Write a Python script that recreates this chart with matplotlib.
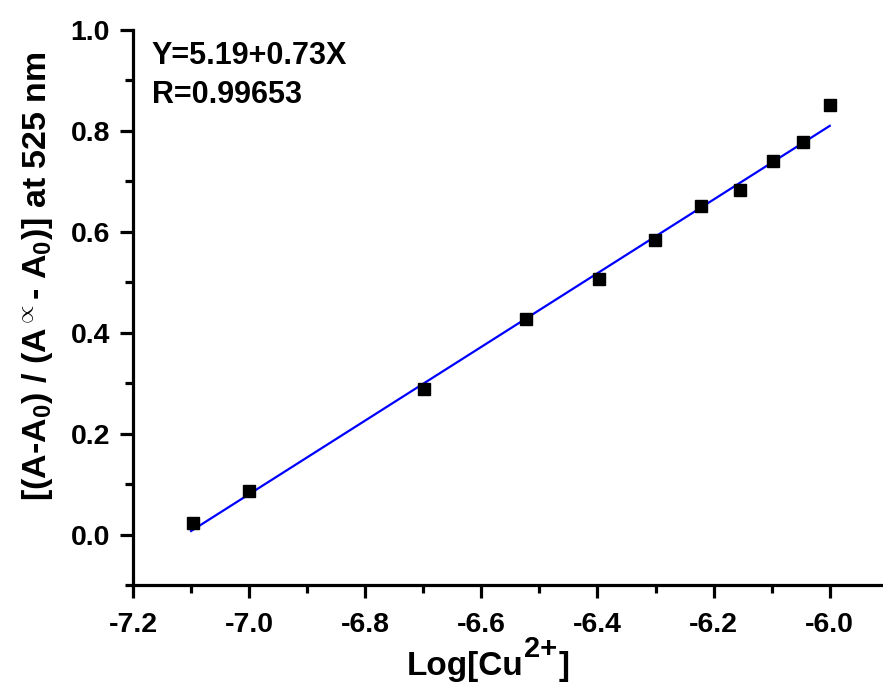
import numpy as np
import matplotlib
matplotlib.use("Agg")
import matplotlib.pyplot as plt
from matplotlib.ticker import MultipleLocator

# ----- data -----
log_cu = [-7.097, -7.0, -6.699, -6.523, -6.398, -6.301, -6.222, -6.155, -6.097, -6.046, -6.0]
response = [0.022, 0.087, 0.288, 0.427, 0.507, 0.583, 0.651, 0.682, 0.740, 0.778, 0.851]

# linear fit reported on the plot
intercept = 5.19
slope = 0.73
r_value = 0.99653
fit_x = [-7.1, -6.0]

x_ticks = [-7.2, -7.0, -6.8, -6.6, -6.4, -6.2, -6.0]
y_ticks = [0.0, 0.2, 0.4, 0.6, 0.8, 1.0]

# ----- style -----
plt.rcParams['font.family'] = ['Liberation Sans', 'DejaVu Sans']
plt.rcParams['font.weight'] = 'bold'
plt.rcParams['mathtext.fontset'] = 'custom'
plt.rcParams['mathtext.rm'] = 'Liberation Sans:bold'
plt.rcParams['mathtext.bf'] = 'Liberation Sans:bold'
plt.rcParams['mathtext.it'] = 'Liberation Sans:bold'

W, H = 883, 686
fig = plt.figure(figsize=(W / 100, H / 100), dpi=100)
ax = fig.add_axes([133 / W, 1 - 585 / H, 749 / W, 555 / H])

ax.plot(log_cu, response, linestyle='none', marker='s', markersize=9,
        color='black', zorder=3)

fx = np.array(fit_x)
ax.plot(fx, intercept + slope * fx, color='#0000ff', linewidth=1.6, zorder=2)

ax.text(0.025, 0.9387, f"Y={intercept}+{slope}X", transform=ax.transAxes,
        fontsize=22, fontweight='bold', va='baseline', ha='left')
ax.text(0.025, 0.8685, f"R={r_value}", transform=ax.transAxes,
        fontsize=22, fontweight='bold', va='baseline', ha='left')

ax.set_xlim(-7.2, -5.91)
ax.set_ylim(-0.1, 1.0)
ax.set_xticks(x_ticks)
ax.set_yticks(y_ticks)
ax.set_xticklabels([f"{v:.1f}" for v in x_ticks])
ax.set_yticklabels([f"{v:.1f}" for v in y_ticks])
ax.xaxis.set_minor_locator(MultipleLocator(0.1))
ax.yaxis.set_minor_locator(MultipleLocator(0.1))

for side in ('top', 'right'):
    ax.spines[side].set_visible(False)
for side in ('left', 'bottom'):
    ax.spines[side].set_linewidth(2.3)

ax.tick_params(which='major', direction='out', length=9.5, width=2.3,
               labelsize=20.5)
ax.tick_params(axis='x', which='major', pad=10)
ax.tick_params(axis='y', which='major', pad=7)
ax.tick_params(which='minor', direction='out', length=5.5, width=2.3)
for lbl in ax.get_xticklabels() + ax.get_yticklabels():
    lbl.set_fontweight('bold')

# x label built from pieces so the charge superscript stays large
t1 = fig.text(407 / W, 1 - 675 / H, "Log[Cu", fontsize=24, fontweight='bold',
              ha='left', va='baseline')
t2 = ax.annotate("2+", xy=(1, 0), xycoords=t1, xytext=(0.5, 13.8),
                 textcoords='offset points', fontsize=21, fontweight='bold',
                 ha='left', va='bottom', annotation_clip=False)
ax.annotate("]", xy=(1, 0), xycoords=(t2, t1), xytext=(1, 0),
            textcoords='offset points', fontsize=24, fontweight='bold',
            ha='left', va='bottom', annotation_clip=False)

ax.set_ylabel(r'[(A-A$_{\mathrm{0}}$) / (A$^{\propto}$- A$_{\mathrm{0}}$)] at 525 nm',
              fontsize=24.5, fontweight='bold')
ax.yaxis.set_label_coords(-0.104, 0.557)

fig.savefig('out.png', dpi=100)
